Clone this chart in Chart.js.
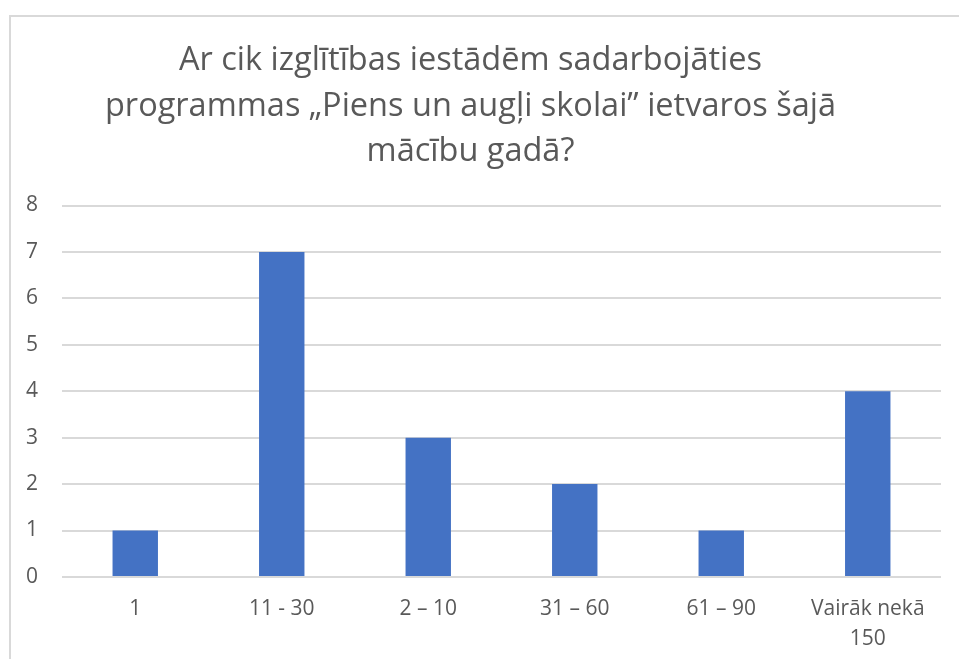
<!DOCTYPE html>
<html lang="lv">
<head>
    <meta charset="UTF-8">
    <title>Piens un augļi skolai</title>
    <style>
        html, body {
            margin: 0;
            padding: 0;
            background: #ffffff;
            overflow: hidden;
        }
        #frame {
            position: absolute;
            left: 9px;
            top: 15px;
            width: 980px;
            height: 700px;
            border: 2px solid #d9d9d9;
        }
        #chart-container {
            position: absolute;
            left: 0;
            top: 0;
            width: 959px;
            height: 659px;
        }
    </style>
    <script src="https://cdn.jsdelivr.net/npm/chart.js"></script>
</head>
<body>
    <div id="frame"></div>
    <div id="chart-container">
        <canvas id="schoolChart" width="959" height="659"></canvas>
    </div>

    <script>
        // dati no attēla
        var titleLines = ["Ar cik izglītības iestādēm sadarbojāties", "programmas „Piens un augļi skolai” ietvaros šajā", "mācību gadā?"];
        var categories = ["1", "11 - 30", "2 – 10", "31 – 60", "61 – 90", ["Vairāk nekā", "150"]];
        var counts = [1, 7, 3, 2, 1, 4];
        var yTicks = [0, 1, 2, 3, 4, 5, 6, 7, 8];

        var textColor = "#595959";
        var gridColor = "#d9d9d9";
        var barColor = "#4472c4";

        var ctx = document.getElementById("schoolChart").getContext("2d");
        var schoolChart = new Chart(ctx, {
            type: 'bar',
            data: {
                labels: categories,
                datasets: [{
                    data: counts,
                    backgroundColor: barColor,
                    borderWidth: 0,
                    barPercentage: 0.62,
                    categoryPercentage: 0.5
                }]
            },
            options: {
                responsive: false,
                animation: false,
                layout: {
                    padding: { left: 0, right: 18, top: 22, bottom: -12 }
                },
                plugins: {
                    legend: { display: false },
                    tooltip: { enabled: false },
                    title: {
                        display: true,
                        text: titleLines,
                        color: textColor,
                        font: { family: "'Open Sans', sans-serif", size: 32.5, weight: 'normal', lineHeight: 1.4 },
                        padding: { top: 16, bottom: 31 }
                    }
                },
                scales: {
                    x: {
                        grid: { display: false, drawTicks: false },
                        border: { display: false },
                        ticks: {
                            color: textColor,
                            font: { family: "'Open Sans', sans-serif", size: 21, lineHeight: 1.43 },
                            padding: 17,
                            maxRotation: 0,
                            autoSkip: false
                        }
                    },
                    y: {
                        min: 0,
                        max: 8,
                        afterFit: function (scale) { scale.width = 62; },
                        afterBuildTicks: function (scale) {
                            scale.ticks = yTicks.map(function (v) { return { value: v }; });
                        },
                        grid: { color: gridColor, lineWidth: 2, drawTicks: false },
                        border: { display: false },
                        ticks: {
                            color: textColor,
                            font: { family: "'Open Sans', sans-serif", size: 21 },
                            padding: 24
                        }
                    }
                }
            }
        });
    </script>
</body>
</html>
